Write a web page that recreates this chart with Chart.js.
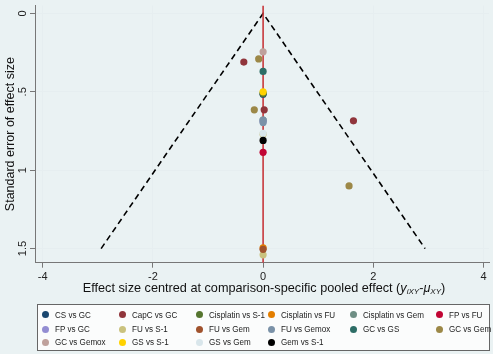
<!DOCTYPE html>
<html lang="en">
<head>
    <meta charset="UTF-8">
    <title>Funnel plot</title>
    <script src="https://cdn.jsdelivr.net/npm/chart.js"></script>
    <style>
        body {
            margin: 0;
            padding: 0;
            background: #eaf2f3;
            font-family: 'Liberation Sans', Arial, sans-serif;
        }

        .wrap {
            position: relative;
            width: 493px;
            height: 354px;
        }

        .chart-box {
            position: absolute;
            left: 0;
            top: 0;
            width: 493px;
            height: 300px;
        }

        /* x axis title with the italic subscript part */
        .x-title {
            position: absolute;
            left: 0;
            width: 528px;
            top: 281px;
            text-align: center;
            font-size: 12.7px;
            color: #111;
            white-space: nowrap;
        }

            .x-title sub {
                font-size: 8px;
                vertical-align: -2px;
            }

        .legend {
            position: absolute;
            left: 37px;
            top: 304px;
            width: 453px;
            height: 47px;
            border: 1px solid #666;
            background: #fbfcfc;
            box-sizing: border-box;
        }

            .legend .item {
                position: absolute;
                font-size: 9.6px;
                color: #222;
                white-space: nowrap;
                line-height: 12px;
            }

            .legend .dot {
                display: inline-block;
                width: 7px;
                height: 7px;
                border-radius: 50%;
                margin-right: 6px;
                vertical-align: -0.5px;
            }

            .legend .txt {
                display: inline-block;
                transform: scaleX(0.84);
                transform-origin: left center;
            }
    </style>
</head>
<body>
    <div class="wrap">
        <div class="chart-box"><canvas id="funnel"></canvas></div>
        <div class="x-title">Effect size centred at comparison-specific pooled effect (<i>y</i><sub><i>iXY</i></sub>-<i>μ</i><sub><i>XY</i></sub>)</div>
        <div class="legend" id="legend"></div>
    </div>

    <script>
        // comparisons, in legend order
        const comparisons = [
            'CS vs GC', 'CapC vs GC', 'Cisplatin vs S-1', 'Cisplatin vs FU', 'Cisplatin vs Gem', 'FP vs FU',
            'FP vs GC', 'FU vs S-1', 'FU vs Gem', 'FU vs Gemox', 'GC vs GS', 'GC vs Gem',
            'GC vs Gemox', 'GS vs S-1', 'GS vs Gem', 'Gem vs S-1'
        ];
        const colors = [
            '#1a476f', '#90353b', '#55752f', '#e37e00', '#6e8e84', '#c10534',
            '#938dd2', '#cac27e', '#a0522d', '#7b92a8', '#2d6d66', '#9c8847',
            '#bfa19c', '#ffd200', '#d9e6eb', '#000000'
        ];

        // centred effect sizes (x) and standard errors (y), one list per comparison
        const effects = [
            [0], [-0.35, 0.02, 1.64], [0], [0], [0], [0],
            [0], [0, 0], [0], [0, 0], [0], [-0.08, -0.16, 1.56],
            [0], [0], [0], [0]
        ];
        const stdErrors = [
            [0.515], [0.31, 0.615, 0.685], [0.51], [1.495], [0.68], [0.886],
            [0.69], [0.77, 1.54], [1.505], [0.68, 0.695], [0.37], [0.29, 0.615, 1.10],
            [0.245], [0.5], [0.765], [0.81]
        ];

        // pseudo 95% confidence limits
        const funnelX = [-2.94, 0, 2.94];
        const funnelY = [1.5, 0, 1.5];

        const xTicks = [-4, -2, 0, 2, 4];
        const yTicks = [0, 0.5, 1, 1.5];
        const xRange = [-4.14, 4.1];
        const yRange = [-0.05, 1.59];

        const pointSets = comparisons.map((name, i) => ({
            type: 'scatter',
            label: name,
            data: effects[i].map((x, k) => ({ x: x, y: stdErrors[i][k] })),
            backgroundColor: colors[i],
            borderColor: colors[i],
            pointRadius: 3.6,
            pointBorderWidth: 0,
            order: comparisons.length - i
        }));

        const data = {
            datasets: [
                {
                    type: 'line',
                    label: 'funnel',
                    data: funnelX.map((x, k) => ({ x: x, y: funnelY[k] })),
                    borderColor: '#000',
                    borderWidth: 1.6,
                    borderDash: [6, 4],
                    pointRadius: 0,
                    fill: false,
                    order: 100
                },
                {
                    type: 'line',
                    label: 'zero',
                    data: [{ x: 0, y: yRange[0] }, { x: 0, y: yRange[1] }],
                    borderColor: '#c8383c',
                    borderWidth: 1.6,
                    pointRadius: 0,
                    fill: false,
                    order: 99
                }
            ].concat(pointSets)
        };

        const tickFont = { family: "'Liberation Sans', Arial, sans-serif", size: 11 };

        const chart = new Chart(document.getElementById('funnel'), {
            type: 'scatter',
            data: data,
            options: {
                responsive: true,
                maintainAspectRatio: false,
                animation: false,
                layout: { padding: { top: 4, right: 2, left: 0, bottom: 0 } },
                plugins: {
                    legend: { display: false },
                    tooltip: { enabled: false }
                },
                scales: {
                    x: {
                        type: 'linear',
                        min: xRange[0],
                        max: xRange[1],
                        afterBuildTicks: s => { s.ticks = xTicks.map(v => ({ value: v })); },
                        afterFit: s => { s.height = 37.3; },
                        grid: { color: '#e6eef0', tickColor: '#777', tickLength: 5 },
                        border: { color: '#777', width: 1 },
                        ticks: { color: '#222', font: tickFont, padding: 3, maxRotation: 0 }
                    },
                    y: {
                        type: 'linear',
                        reverse: true,
                        min: yRange[0],
                        max: yRange[1],
                        afterBuildTicks: s => { s.ticks = yTicks.map(v => ({ value: v })); },
                        afterFit: s => { s.width = 35; },
                        grid: { color: '#e6eef0', tickColor: '#777', tickLength: 5 },
                        border: { color: '#777', width: 1 },
                        ticks: {
                            color: '#222',
                            font: tickFont,
                            minRotation: 90,
                            maxRotation: 90,
                            crossAlign: 'center',
                            padding: -1,
                            callback: v => v === 0.5 ? '.5' : String(v)
                        },
                        title: {
                            display: true,
                            text: 'Standard error of effect size',
                            color: '#111',
                            font: { family: "'Liberation Sans', Arial, sans-serif", size: 12.5 },
                            padding: { top: 3, bottom: 0 }
                        }
                    }
                }
            }
        });

        // legend laid out as a grid like the original
        const colX = [4.3, 81.3, 158, 230, 312, 398];
        const rowY = [3.7, 18, 31.3];
        const legend = document.getElementById('legend');
        comparisons.forEach((name, i) => {
            const item = document.createElement('div');
            item.className = 'item';
            item.style.left = colX[i % 6] + 'px';
            item.style.top = rowY[Math.floor(i / 6)] + 'px';
            item.innerHTML = '<span class="dot" style="background:' + colors[i] + '"></span><span class="txt">' + name + '</span>';
            legend.appendChild(item);
        });
    </script>
</body>
</html>
